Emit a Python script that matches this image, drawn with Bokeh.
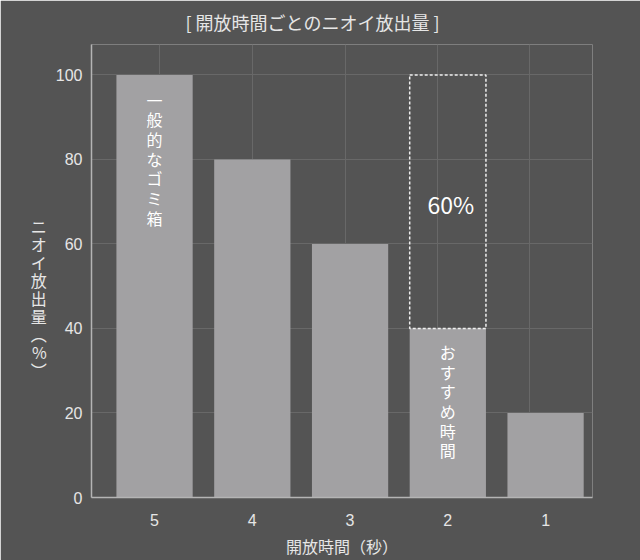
from bokeh.plotting import figure
from bokeh.models import Label, FixedTicker, ColumnDataSource
from bokeh.embed import file_html
from bokeh.resources import INLINE

# ---- data ----
categories = ["5", "4", "3", "2", "1"]          # 開放時間（秒）
values = [100, 80, 60, 40, 20]                  # ニオイ放出量（%）
y_ticks = [0, 20, 40, 60, 80, 100]
title_text = "[ 開放時間ごとのニオイ放出量 ]"
x_label = "開放時間（秒）"
y_label_chars = ["ニ", "オ", "イ", "放", "出", "量", "︵", "%", "︶"]
note_general = "一般的なゴミ箱"
note_recommend = "おすすめ時間"
reduction_text = "60%"

FONT = "Noto Sans CJK JP"
NUMFONT = "Liberation Sans"
BG = "#545454"
BAR = "#a2a1a3"
TXT = "#e6e6e6"
GRID = "#686868"

xs = list(range(len(categories)))
src = ColumnDataSource(dict(x=xs, top=values))

p = figure(width=640, height=560, output_backend="svg", toolbar_location=None,
           x_range=(-0.645, 4.48), y_range=(0, 107.2),
           min_border_left=91, min_border_right=48, min_border_top=43,
           min_border_bottom=63, title=title_text)
p.background_fill_color = BG
p.border_fill_color = BG
p.outline_line_color = None

p.title.text_font = FONT
p.title.text_font_size = "18px"
p.title.text_font_style = "normal"
p.title.text_color = TXT
p.title.align = "left"
p.title.offset = 94
p.title.standoff = 16
p.title.vertical_align = "top"

p.vbar(x="x", top="top", width=0.78, bottom=0, source=src,
       fill_color=BAR, line_color=None)

# dashed box showing the reduction from 100 to 40 at 2 seconds
i2 = categories.index("2")
p.rect(x=[xs[i2]], y=[(values[0] + values[i2]) / 2], width=0.78,
       height=values[0] - values[i2], fill_color=None, line_color="#f0f0f0",
       line_width=1.5, line_dash="3 2")

# axes
p.xaxis.ticker = FixedTicker(ticks=xs)
p.xaxis.major_label_overrides = {i: c for i, c in zip(xs, categories)}
p.yaxis.ticker = FixedTicker(ticks=y_ticks)
for ax in (p.xaxis[0], p.yaxis[0]):
    ax.axis_line_color = "#b4b4b4"
    ax.axis_line_width = 1.5
    ax.major_tick_line_color = None
    ax.minor_tick_line_color = None
    ax.major_label_text_color = TXT
    ax.major_label_text_font = NUMFONT
    ax.major_label_text_font_size = "16px"
    ax.axis_label_text_font = FONT
    ax.axis_label_text_font_size = "16px"
    ax.axis_label_text_font_style = "normal"
    ax.axis_label_text_color = TXT
p.xaxis.major_label_standoff = 10
p.yaxis.major_label_standoff = 3
p.xaxis.axis_label = x_label
p.xaxis.axis_label_standoff = 5

# vertical (upright) Japanese y-axis label: stacked characters, unrotated
p.yaxis.axis_label = "\n".join([" ", " ", " "] + y_label_chars)
p.yaxis.axis_label_orientation = "horizontal"
p.yaxis.axis_label_text_line_height = 0.75
p.yaxis.axis_label_standoff = 6

# grid
p.ygrid.ticker = FixedTicker(ticks=y_ticks)
p.ygrid.grid_line_color = GRID
p.xgrid.ticker = FixedTicker(ticks=[0.05, 1.0, 1.95, 2.89, 3.84])
p.xgrid.grid_line_color = GRID

# texts inside the plot
def add_label(text, x, y, size, line_height=1.2, color="#ffffff"):
    p.add_layout(Label(x=x, y=y, text=text,
                       text_font=FONT, text_font_size=size, text_color=color,
                       text_align="center", text_baseline="middle",
                       text_line_height=line_height))

add_label("\n".join(note_general), 0, 80.2, "16px", line_height=0.82)
add_label("\n".join(note_recommend), xs[i2], 22.8, "16px", line_height=0.82)
add_label(reduction_text, xs[i2] + 0.03, 69.4, "23px")

open("out.html", "w").write(file_html(p, INLINE))
